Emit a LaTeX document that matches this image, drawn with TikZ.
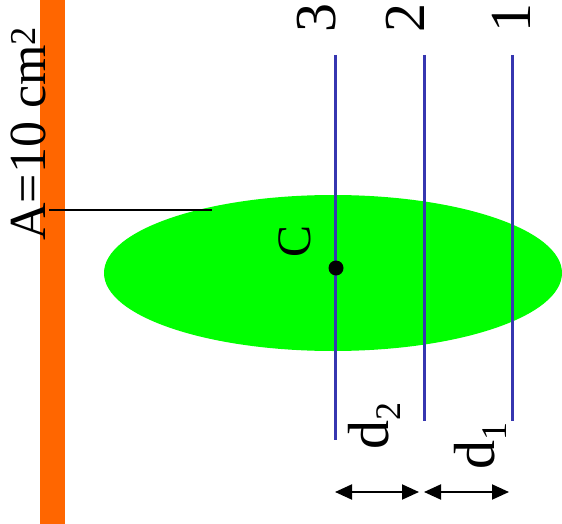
\documentclass[tikz,border=0pt]{standalone}
\usepackage{fontspec}
\setmainfont{Liberation Serif}
\usetikzlibrary{arrows.meta}
\definecolor{barorange}{HTML}{FF6600}
\definecolor{ellgreen}{HTML}{00FF00}
\definecolor{lineblue}{HTML}{3636B0}
\begin{document}
\begin{tikzpicture}[x=1pt,y=-1pt,
  rlabel/.style={rotate=90,anchor=base west,inner sep=0pt,text=black},
  bline/.style={draw=lineblue,line width=3pt},
  dimarrow/.style={line width=2pt,{Triangle[length=17pt,width=15pt]}-{Triangle[length=17pt,width=15pt]}}]
\useasboundingbox (0,0) rectangle (562,524);
% bar
\fill[barorange] (40,0) rectangle (65,524);
% ellipse
\fill[ellgreen] (333,273) ellipse [x radius=229, y radius=78];
% leader line
\coordinate (lA) at (49,210);
\coordinate (lB) at (212,210);
\draw[line width=1.5pt] (lA) -- (lB);
% blue lines
\coordinate (t3) at (335,55); \coordinate (b3) at (335,440);
\coordinate (t2) at (424,55); \coordinate (b2) at (424,421);
\coordinate (t1) at (512,55); \coordinate (b1) at (512,421);
\draw[bline] (t3) -- (b3);
\draw[bline] (t2) -- (b2);
\draw[bline] (t1) -- (b1);
% center dot
\fill (336,268) circle (7.5) coordinate (C);
% labels
\node[rlabel,font=\fontsize{52}{52}\selectfont] (A) at (45,241) {A=10 cm\textsuperscript{2}};
\node[rlabel,font=\fontsize{58}{58}\selectfont] (n3) at (335,33) {3};
\node[rlabel,font=\fontsize{58}{58}\selectfont] (n2) at (424,33) {2};
\node[rlabel,font=\fontsize{58}{58}\selectfont] (n1) at (530,33) {1};
\node[rlabel,font=\fontsize{48}{48}\selectfont] (cl) at (310,258) {C};
\node[rlabel,font=\fontsize{58}{58}\selectfont] (d2) at (388,450) {d\raisebox{-0.22em}{\fontsize{36}{36}\selectfont 2}};
\node[rlabel,font=\fontsize{58}{58}\selectfont] (d1) at (494,470) {d\raisebox{-0.22em}{\fontsize{36}{36}\selectfont 1}};
% dimension arrows
\coordinate (a1) at (335,492); \coordinate (a2) at (419,492);
\coordinate (a3) at (424,492); \coordinate (a4) at (509,492);
\draw[dimarrow] (a1) -- (a2);
\draw[dimarrow] (a3) -- (a4);
\end{tikzpicture}
\end{document}
